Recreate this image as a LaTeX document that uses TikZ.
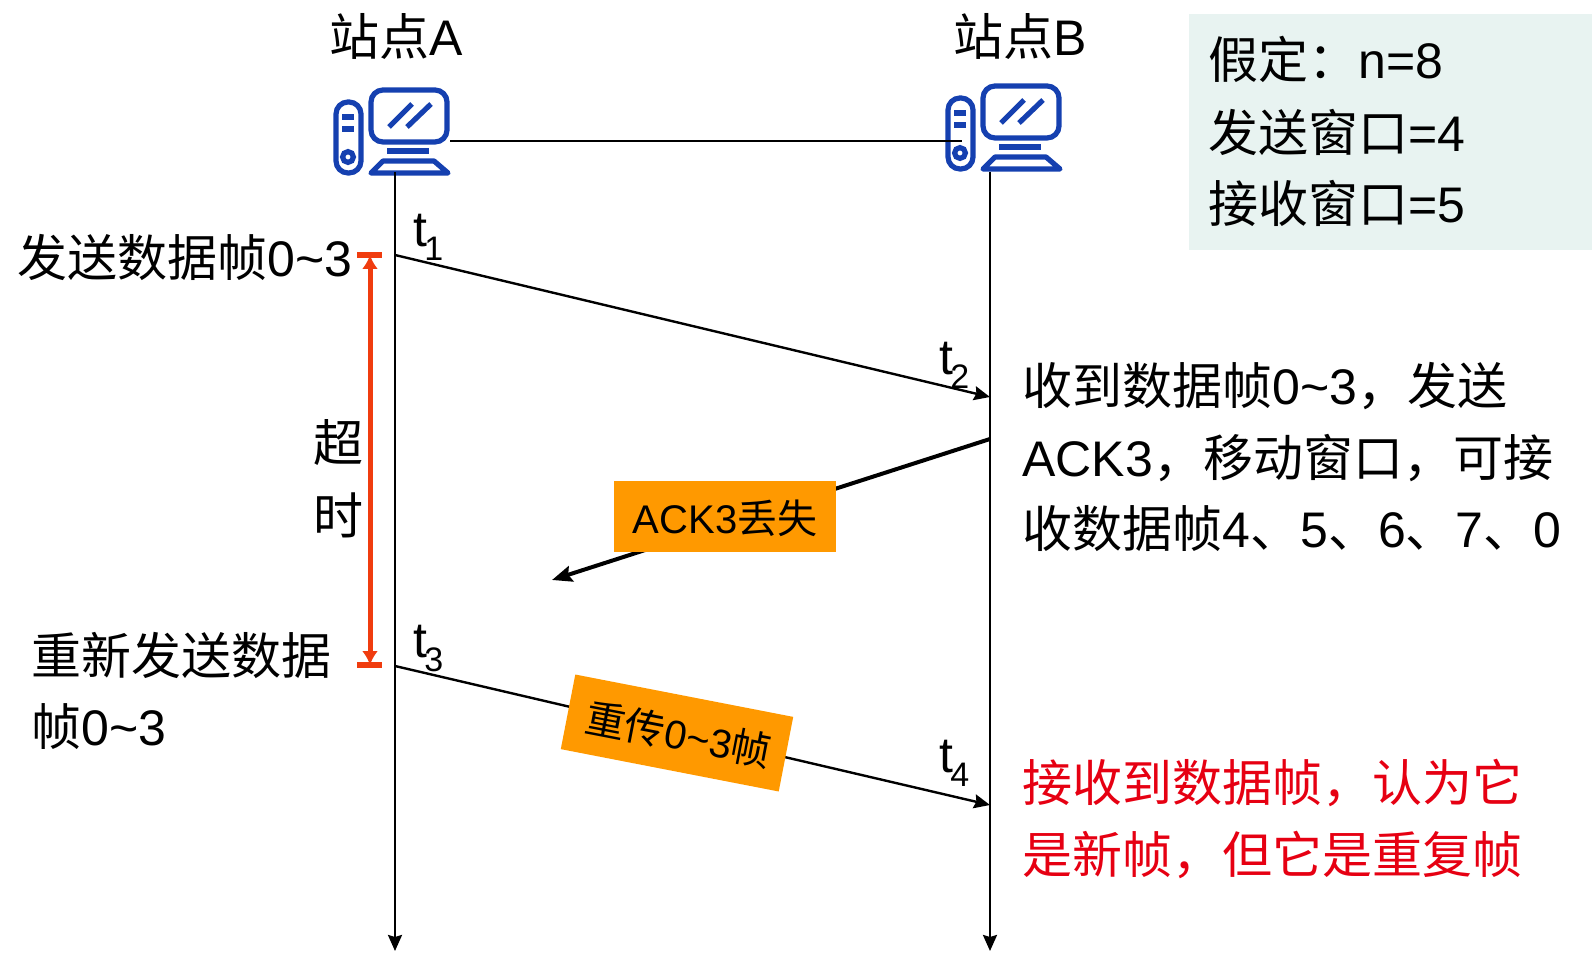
\documentclass[tikz,border=0pt]{standalone}
\usepackage{fontspec}
\setmainfont{Liberation Sans}
\newfontfamily\cjk{Noto Sans CJK SC}
\usetikzlibrary{arrows.meta}
\newcommand{\zh}[1]{{\cjk #1}}
\newcommand{\tlab}[1]{t\hspace{-1.5pt}\raisebox{-7pt}{\fontsize{17}{17}\selectfont #1}}
\definecolor{pcblue}{HTML}{1540B0}
\definecolor{tagorange}{HTML}{FF9900}
\definecolor{timerred}{HTML}{F03C0F}
\definecolor{notebg}{HTML}{E8F3F1}
\definecolor{warnred}{HTML}{E60012}
\tikzset{
 every node/.style={inner sep=0pt, font=\fontsize{25}{25}\selectfont},
 txt/.style={anchor=west},
 life/.style={line width=1.2pt,-{Stealth[length=8pt,width=7pt,inset=1pt]}},
 msg/.style={line width=1.2pt,-{Stealth[length=8pt,width=7pt,inset=1pt]}},
 timer/.style={timerred,line width=3pt},
 tag/.style={fill=tagorange,minimum width=111pt,font=\fontsize{20}{20}\selectfont},
 pics/station/.style={code={
   \begin{scope}[pcblue,line width=2.6pt]
    \draw[rounded corners=6pt] (4,14) rectangle (29,85);
    \draw (10,29) -- (22,29);
    \draw (10,41) -- (22,41);
    \draw (16,69) circle (2.7pt);
    \draw[rounded corners=6pt] (39,2) rectangle (115,54);
    \draw (57,39) -- (80,16);
    \draw (75,39) -- (99,16);
    \draw (55,63) -- (97,63);
    \draw[line join=round] (39,85) -- (51,73) -- (102,73) -- (116,85) -- cycle;
   \end{scope}
 }}
}
\begin{document}
\begin{tikzpicture}[x=0.5pt,y=-0.5pt]
  \useasboundingbox (0,0) rectangle (1596,962);
  \fill[notebg] (1189,14) rectangle (1592,250);

  \coordinate (a0) at (395,172);
  \coordinate (a1) at (395,951);
  \coordinate (b0) at (990,172);
  \coordinate (b1) at (990,951);
  \coordinate (t1) at (395,255);
  \coordinate (t2) at (990,397);
  \coordinate (t3) at (395,666);
  \coordinate (t4) at (990,805);
  \coordinate (ackstart) at (990,439);
  \coordinate (ackend) at (552,580);
  \coordinate (linka) at (450,141);
  \coordinate (linkb) at (962,141);
  \coordinate (timertop) at (370,255);
  \coordinate (timerbot) at (370,665);

  \pic at (332,88) {station};
  \pic at (944,84) {station};

  \draw[line width=1.2pt] (linka) -- (linkb);
  \draw[life] (a0) -- (a1);
  \draw[life] (b0) -- (b1);
  \draw[msg] (t1) -- (t2);
  \draw[msg] (t3) -- (t4);
  \draw[line width=2pt,-{Stealth[length=10pt,width=8pt,inset=1.5pt]}] (ackstart) -- (ackend);

  % timeout
  \draw[timerred,line width=2.5pt,{Latex[length=7pt,width=8pt]}-{Latex[length=7pt,width=8pt]}] (timertop) -- (timerbot);
  \draw[timer] ([xshift=-6.5pt]timertop) -- ([xshift=6pt]timertop);
  \draw[timer] ([xshift=-6.5pt]timerbot) -- ([xshift=6pt]timerbot);

  \node[tag,minimum height=35.5pt] (acklost) at (725,516.5) {\raisebox{-8.5pt}[0pt][0pt]{ACK3\zh{丢失}}};
  \node[tag,minimum height=38pt,rotate=-11] (resend) at (677,733) {\hspace{2pt}\raisebox{-8pt}[0pt][0pt]{\zh{重传}0\textasciitilde 3\zh{帧}}};

  \node (siteA) at (396,36) {\zh{站点}A};
  \node (siteB) at (1020,36) {\zh{站点}B};

  \node[txt] (n1) at (1208,59) {\zh{假定：}n=8};
  \node[txt] (n2) at (1208,132) {\zh{发送窗口}=4};
  \node[txt] (n3) at (1208,203) {\zh{接收窗口}=5};

  \node[txt] (send) at (17,257) {\zh{发送数据帧}0\textasciitilde 3};
  \node[txt] (resend1) at (31,655) {\zh{重新发送数据}};
  \node[txt] (resend2) at (31,727) {\zh{帧}0\textasciitilde 3};
  \node (to1) at (338,443) {\zh{超}};
  \node (to2) at (338,515) {\zh{时}};

  \node[txt] (lt1) at (413,237) {\tlab{1}};
  \node[txt] (lt2) at (939,365) {\tlab{2}};
  \node[txt] (lt3) at (413,649) {\tlab{3}};
  \node[txt] (lt4) at (939,763) {\tlab{4}};

  \node[txt] (r1) at (1022,386) {\zh{收到数据帧}0\textasciitilde 3\zh{，发送}};
  \node[txt] (r2) at (1022,458) {ACK3\zh{，移动窗口，可接}};
  \node[txt] (r3) at (1022,529) {\zh{收数据帧}4\zh{、}5\zh{、}6\zh{、}7\zh{、}0};
  \node[txt,warnred] (w1) at (1022,783) {\zh{接收到数据帧，认为它}};
  \node[txt,warnred] (w2) at (1022,855) {\zh{是新帧，但它是重复帧}};
\end{tikzpicture}
\end{document}
